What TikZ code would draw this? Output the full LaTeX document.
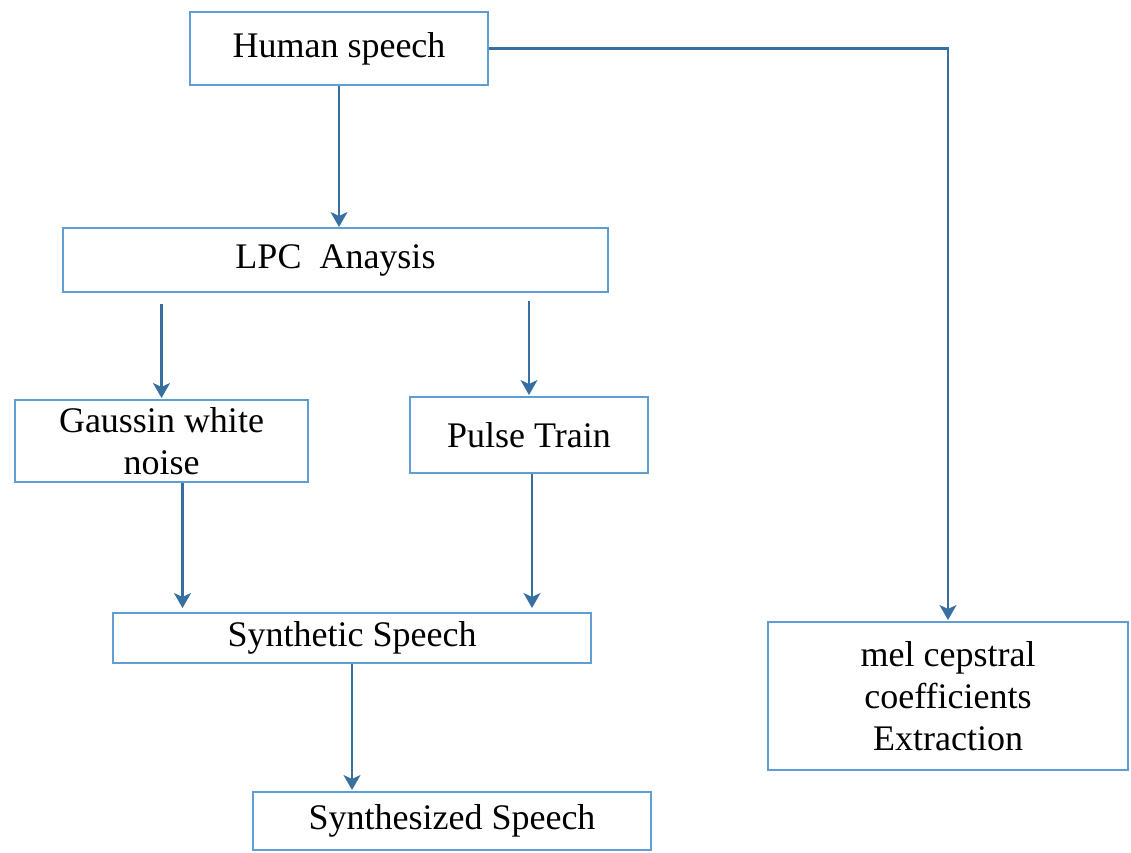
\documentclass[tikz,border=0pt]{standalone}
\usepackage{fontspec}
\setmainfont{Liberation Serif}
\usetikzlibrary{arrows.meta,positioning}
\definecolor{boxblue}{RGB}{95,158,212}
\definecolor{arrblue}{RGB}{55,112,160}
\tikzset{
  stepbox/.style={draw=boxblue, line width=2pt, fill=white, inner sep=0pt, align=center,
    font=\fontsize{36}{42}\selectfont},
  arr/.style={draw=arrblue, line width=2.1pt, -{Stealth[length=15pt,width=17pt,inset=4pt]}}
}
\begin{document}
\begin{tikzpicture}[x=1pt,y=-1pt]
\useasboundingbox (0,0) rectangle (1131,852);
\node[stepbox, minimum width=298pt, minimum height=73pt] (hs) at (339,48.5) {Human speech};
\node[stepbox, minimum width=545pt, minimum height=64pt] (lpc) at (335.5,260) {LPC\ \ Anaysis};
\node[stepbox, minimum width=293pt, minimum height=82pt] (gw) at (161.5,441) {Gaussin white\\noise};
\node[stepbox, minimum width=238pt, minimum height=76pt] (pt) at (529,435) {Pulse Train};
\node[stepbox, minimum width=478pt, minimum height=50pt] (syn) at (352,638) {Synthetic Speech};
\node[stepbox, minimum width=398pt, minimum height=58pt] (sz) at (452,821) {Synthesized Speech};
\node[stepbox, minimum width=360pt, minimum height=148pt] (mel) at (948,696) {mel cepstral\\coefficients\\Extraction};
\draw[arr] (hs.south) -- (hs.south |- lpc.north);
\draw[arr] ([yshift=-11pt]lpc.south -| gw.north) -- ([yshift=1pt]gw.north);
\draw[arr] ([yshift=-8pt]lpc.south -| pt.north) -- ([yshift=1pt]pt.north);
\draw[arr] ([xshift=21pt]gw.south) -- ([xshift=21pt,yshift=4pt]gw.south |- syn.north);
\draw[arr] ([xshift=3pt]pt.south) -- ([xshift=3pt,yshift=4pt]pt.south |- syn.north);
\draw[arr] (syn.south) -- ([yshift=1pt]syn.south |- sz.north);
\draw[arr] (hs.east) -| ([yshift=1pt]mel.north);
\end{tikzpicture}
\end{document}
